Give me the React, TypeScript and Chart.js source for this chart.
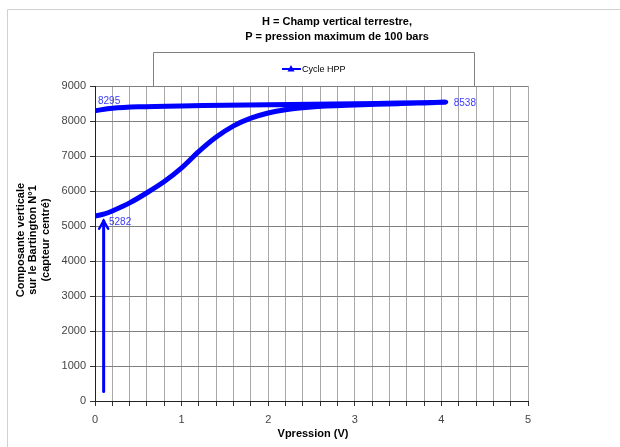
import React, { useEffect, useRef } from "react";
import { Chart, registerables } from "chart.js";

Chart.register(...registerables);

// Cycle HPP: pressure rising (lower branch) then falling (upper branch)
const vPression: number[] = [
  0.0, 0.1, 0.2, 0.4, 0.6, 0.8, 1.0, 1.2, 1.4, 1.6, 1.8, 2.0, 2.2, 2.5, 3.0, 3.5, 4.05,
  3.5, 3.0, 2.5, 2.0, 1.5, 1.0, 0.5, 0.2, 0.0,
];
const composante: number[] = [
  5282, 5340, 5430, 5660, 5950, 6270, 6660, 7130, 7540, 7860, 8080, 8230, 8320, 8400, 8455, 8495, 8538,
  8512, 8492, 8478, 8462, 8447, 8432, 8405, 8365, 8295,
];
const labelledIdx: number[] = [0, 16, 25];
const arrowX: number[] = [0.1, 0.1];
const arrowY: number[] = [270, 5150];
const xTicks: number[] = [0, 1, 2, 3, 4, 5];
const yTicks: number[] = [0, 1000, 2000, 3000, 4000, 5000, 6000, 7000, 8000, 9000];
const titleLines: string[] = ["H = Champ vertical terrestre,", "P = pression maximum de 100 bars"];
const yTitleLines: string[] = ["Composante verticale", "sur le Bartington N°1", "(capteur centré)"];
const xTitle = "Vpression (V)";
const seriesName = "Cycle HPP";

const FONT = "'Liberation Sans', Arial, sans-serif";
const BLUE = "#0000ff";
const labelOffsets: { [k: number]: [number, number] } = { 0: [14, 6], 16: [8, 1], 25: [3, -9] };

const decor = {
  id: "decor",
  afterDraw(chart: any) {
    const ctx = chart.ctx as CanvasRenderingContext2D;
    const xs = chart.scales.x;
    const ys = chart.scales.y;
    const area = chart.chartArea;
    ctx.save();
    // outer frame
    ctx.strokeStyle = "#d0d0d0";
    ctx.lineWidth = 1;
    ctx.beginPath();
    ctx.moveTo(7.5, 447);
    ctx.lineTo(7.5, 9.5);
    ctx.lineTo(620, 9.5);
    ctx.stroke();

    // title
    ctx.fillStyle = "#000";
    ctx.font = `bold 11px ${FONT}`;
    ctx.textAlign = "center";
    ctx.textBaseline = "middle";
    titleLines.forEach((t, i) => ctx.fillText(t, 337, 22 + i * 14.5));

    // legend box
    ctx.strokeStyle = "#808080";
    ctx.beginPath();
    ctx.moveTo(153.5, area.top);
    ctx.lineTo(153.5, 52.5);
    ctx.lineTo(474.5, 52.5);
    ctx.lineTo(474.5, area.top);
    ctx.stroke();
    ctx.strokeStyle = BLUE;
    ctx.lineWidth = 2;
    ctx.beginPath();
    ctx.moveTo(282, 69);
    ctx.lineTo(301, 69);
    ctx.stroke();
    ctx.fillStyle = BLUE;
    ctx.beginPath();
    ctx.moveTo(291, 65);
    ctx.lineTo(294.5, 71.5);
    ctx.lineTo(287.5, 71.5);
    ctx.closePath();
    ctx.fill();
    ctx.fillStyle = "#000";
    ctx.font = `9px ${FONT}`;
    ctx.textAlign = "left";
    ctx.fillText(seriesName, 302, 69.5);

    // y title
    ctx.save();
    ctx.translate(33, 240);
    ctx.rotate(-Math.PI / 2);
    ctx.font = `bold 11px ${FONT}`;
    ctx.textAlign = "center";
    ctx.fillStyle = "#000";
    yTitleLines.forEach((t, i) => ctx.fillText(t, 0, (i - 1) * 12.5));
    ctx.restore();

    // x title
    ctx.font = `bold 11px ${FONT}`;
    ctx.textAlign = "center";
    ctx.fillStyle = "#000";
    ctx.fillText(xTitle, 313, 434);

    // arrow
    const ax0 = xs.getPixelForValue(arrowX[0]);
    const ay0 = ys.getPixelForValue(arrowY[0]);
    const ax1 = xs.getPixelForValue(arrowX[1]);
    const ay1 = ys.getPixelForValue(arrowY[1]);
    ctx.strokeStyle = BLUE;
    ctx.lineWidth = 3;
    ctx.lineCap = "round";
    ctx.beginPath();
    ctx.moveTo(ax0, ay0);
    ctx.lineTo(ax1, ay1);
    ctx.stroke();
    ctx.lineWidth = 2.5;
    ctx.beginPath();
    ctx.moveTo(ax1 - 4.5, ay1 + 8);
    ctx.lineTo(ax1, ay1);
    ctx.lineTo(ax1 + 4.5, ay1 + 8);
    ctx.stroke();

    // data labels
    ctx.font = `10px ${FONT}`;
    ctx.textAlign = "left";
    ctx.textBaseline = "middle";
    ctx.fillStyle = "#3c3cff";
    labelledIdx.forEach((i) => {
      const px = xs.getPixelForValue(vPression[i]);
      const py = ys.getPixelForValue(composante[i]);
      const off = labelOffsets[i] || [4, -8];
      ctx.fillText(String(composante[i]), px + off[0], py + off[1]);
    });
    ctx.restore();
  },
};

export default function App() {
  const ref = useRef<HTMLCanvasElement | null>(null);
  useEffect(() => {
    if (!ref.current) return;
    const chart = new Chart(ref.current, {
      type: "scatter",
      data: {
        datasets: [
          {
            label: seriesName,
            data: vPression.map((x, i) => ({ x, y: composante[i] })),
            showLine: true,
            borderColor: BLUE,
            backgroundColor: BLUE,
            borderWidth: 5,
            pointRadius: 0,
            tension: 0.3,
            borderJoinStyle: "round",
            borderCapStyle: "round",
          },
        ],
      },
      plugins: [decor],
      options: {
        responsive: false,
        animation: false,
        events: [],
        layout: { padding: { left: 0, top: 86, right: 92, bottom: 0 } },
        plugins: {
          legend: { display: false },
          title: { display: false },
          tooltip: { enabled: false },
        },
        scales: {
          x: {
            type: "linear",
            min: 0,
            max: 5,
            afterFit: (s: any) => {
              s.height = 46;
            },
            afterBuildTicks: (s: any) => {
              const t: any[] = [];
              for (let k = 0; k <= 25; k++) t.push({ value: Math.round(k * 2) / 10 });
              s.ticks = t;
            },
            ticks: {
              autoSkip: false,
              maxRotation: 0,
              padding: 7,
              color: "#444",
              font: { family: FONT, size: 11 },
              callback: (v: any) => {
                const n = Number(v);
                return xTicks.includes(Math.round(n * 1000) / 1000) ? String(n) : "";
              },
            },
            grid: { color: "#a8a8a8", lineWidth: 1, tickLength: 5, tickColor: "#333" },
            border: { color: "#222", width: 1 },
          },
          y: {
            type: "linear",
            min: 0,
            max: 9000,
            afterFit: (s: any) => {
              s.width = 95;
            },
            afterBuildTicks: (s: any) => {
              s.ticks = yTicks.map((v) => ({ value: v }));
            },
            ticks: {
              padding: 4,
              color: "#444",
              font: { family: FONT, size: 11 },
              callback: (v: any) => String(v),
            },
            grid: { color: "#808080", lineWidth: 1, tickLength: 5, tickColor: "#333" },
            border: { color: "#222", width: 1 },
          },
        },
      },
    } as any);
    return () => chart.destroy();
  }, []);
  return (
    <div style={{ position: "absolute", left: 0, top: 0, width: 620, height: 447, background: "#fff" }}>
      <canvas ref={ref} width={620} height={447} />
    </div>
  );
}
